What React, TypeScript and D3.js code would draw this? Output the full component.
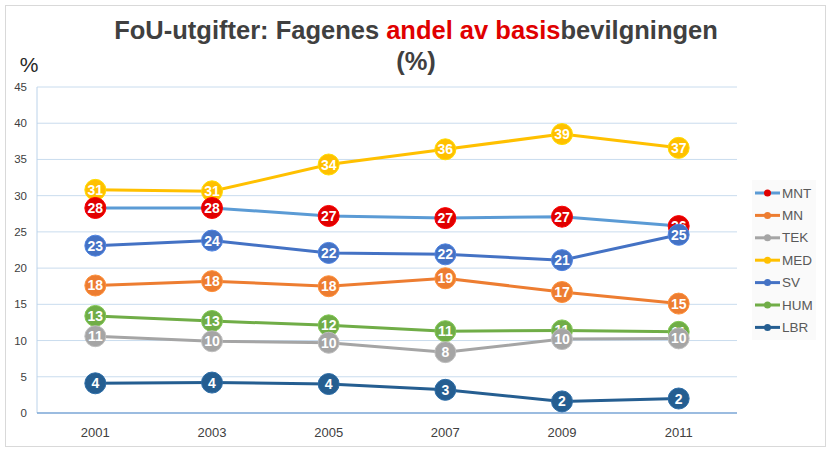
import React from 'react';
import * as d3 from 'd3';

const years = ['2001', '2003', '2005', '2007', '2009', '2011'];
const yTicks = [0, 5, 10, 15, 20, 25, 30, 35, 40, 45];

const mnt = [28.3, 28.3, 27.2, 26.9, 27.1, 25.8];
const mn = [17.6, 18.2, 17.5, 18.6, 16.7, 15.1];
const tek = [10.6, 9.9, 9.7, 8.4, 10.2, 10.3];
const med = [30.8, 30.6, 34.3, 36.4, 38.5, 36.6];
const sv = [23.1, 23.8, 22.1, 21.9, 21.1, 24.6];
const hum = [13.4, 12.7, 12.1, 11.3, 11.4, 11.2];
const lbr = [4.1, 4.2, 4.0, 3.2, 1.6, 2.0];

// legend order
const series = [
  { name: 'MNT', values: mnt, line: '#5b9bd5', marker: '#e00000' },
  { name: 'MN', values: mn, line: '#ed7d31', marker: '#ed7d31' },
  { name: 'TEK', values: tek, line: '#a5a5a5', marker: '#a5a5a5' },
  { name: 'MED', values: med, line: '#ffc000', marker: '#ffc000' },
  { name: 'SV', values: sv, line: '#4472c4', marker: '#4472c4' },
  { name: 'HUM', values: hum, line: '#70ad47', marker: '#70ad47' },
  { name: 'LBR', values: lbr, line: '#255e91', marker: '#255e91' },
];

// drawing order (later on top)
const drawOrder = ['MED', 'MNT', 'SV', 'HUM', 'TEK', 'MN', 'LBR'];

const W = 831;
const H = 452;
const plot = { left: 37, right: 737, top: 87, bottom: 413 };

const App: React.FC = () => {
  const x = d3.scaleBand<string>().domain(years).range([plot.left, plot.right]);
  const y = d3.scaleLinear().domain([0, 45]).range([plot.bottom, plot.top]);
  const cx = (yr: string) => (x(yr) as number) + x.bandwidth() / 2;

  const line = d3
    .line<number>()
    .x((_, i) => cx(years[i]))
    .y((d) => y(d));

  const font = 'Arial, "Liberation Sans", sans-serif';

  return (
    <div style={{ position: 'absolute', left: 0, top: 0 }}>
      <svg width={W} height={H} style={{ display: 'block', fontFamily: font }}>
        <rect x={0} y={0} width={W} height={H} fill="#ffffff" />
        <rect x={5.5} y={5.5} width={W - 11} height={H - 11} fill="#ffffff" stroke="#d9d9d9" />

        {/* title */}
        <text x={416} y={39} textAnchor="middle" fontSize={25.5} fontWeight="bold" fill="#404040">
          <tspan>FoU-utgifter: Fagenes </tspan>
          <tspan fill="#e00000">andel av basis</tspan>
          <tspan>bevilgningen</tspan>
        </text>
        <text x={416} y={70} textAnchor="middle" fontSize={25.5} fontWeight="bold" fill="#404040">
          (%)
        </text>
        <text x={29} y={72} textAnchor="middle" fontSize={21} fill="#262626">
          %
        </text>

        {/* grid */}
        {yTicks.map((t) => (
          <g key={t}>
            {t > 0 && (
              <line x1={plot.left} x2={plot.right} y1={y(t)} y2={y(t)} stroke="#c9dcee" strokeWidth={1} />
            )}
            <text x={27} y={y(t) + 4} textAnchor="end" fontSize={11.5} fill="#404040">
              {t}
            </text>
          </g>
        ))}
        <line x1={plot.left} x2={plot.left} y1={plot.top} y2={plot.bottom} stroke="#bcd3ea" strokeWidth={1} />
        <line x1={plot.left} x2={plot.right} y1={plot.bottom} y2={plot.bottom} stroke="#7aa6d6" strokeWidth={1.5} />
        {years.map((yr) => (
          <text key={yr} x={cx(yr)} y={437} textAnchor="middle" fontSize={13} fill="#404040">
            {yr}
          </text>
        ))}

        {/* series */}
        {drawOrder.map((nm) => {
          const s = series.find((d) => d.name === nm)!;
          return (
            <g key={nm}>
              <path d={line(s.values) as string} fill="none" stroke={s.line} strokeWidth={3} />
              {s.values.map((v, i) => (
                <g key={i}>
                  <circle
                    cx={cx(years[i])}
                    cy={y(v)}
                    r={10.5}
                    fill={s.marker}
                    stroke={d3.color(s.marker)!.brighter(0.4).toString()}
                    strokeWidth={1}
                  />
                  <text
                    x={cx(years[i])}
                    y={y(v) + 5}
                    textAnchor="middle"
                    fontSize={14}
                    fontWeight="bold"
                    fill="#ffffff"
                  >
                    {Math.round(v)}
                  </text>
                </g>
              ))}
            </g>
          );
        })}

        {/* legend */}
        <rect x={752} y={180} width={64} height={160} fill="#fafafa" />
        {series.map((s, i) => {
          const ly = 193 + i * 22.4;
          return (
            <g key={s.name}>
              <line x1={755} x2={780} y1={ly} y2={ly} stroke={s.line} strokeWidth={3} />
              <circle cx={767.5} cy={ly} r={3.5} fill={s.marker} />
              <text x={782} y={ly + 4.5} fontSize={13.5} fill="#595959">
                {s.name}
              </text>
            </g>
          );
        })}
      </svg>
    </div>
  );
};

export default App;
